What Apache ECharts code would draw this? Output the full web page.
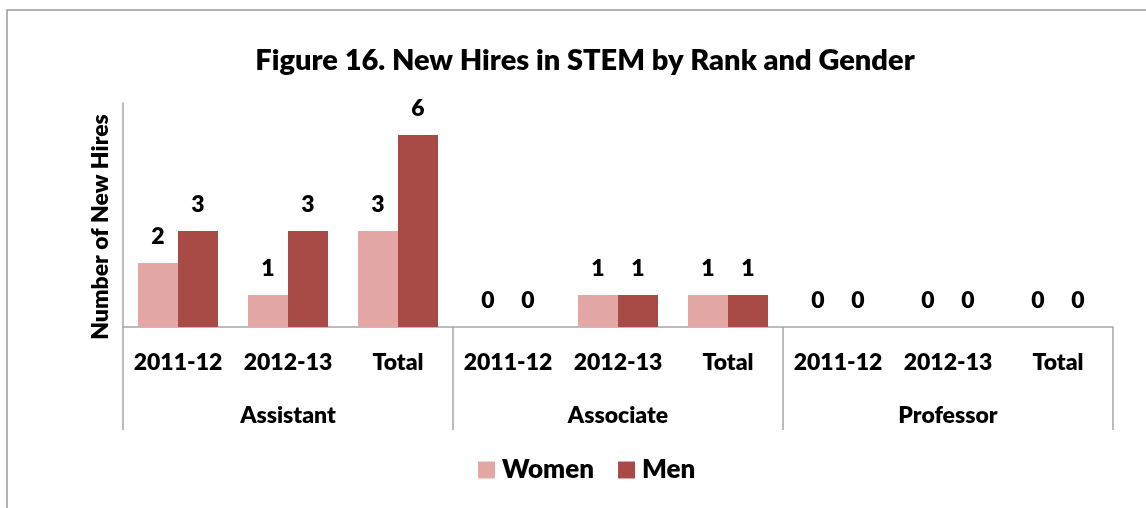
<!DOCTYPE html>
<html>
<head>
<meta charset="utf-8">
<script src="https://cdn.jsdelivr.net/npm/echarts@6/dist/echarts.min.js"></script>
<style>
html,body{margin:0;padding:0;background:#fff;}
#chart{width:1146px;height:508px;}
</style>
</head>
<body>
<div id="chart"></div>
<script>
var categories = ['2011-12','2012-13','Total','2011-12','2012-13','Total','2011-12','2012-13','Total'];
var groups = ['Assistant','Associate','Professor'];
var women = [2,1,3,0,1,1,0,0,0];
var men = [3,3,6,0,1,1,0,0,0];

var FONT = 'Lato';
var W = 800;
var chart = echarts.init(document.getElementById('chart'));
var labelCfg = {show:true, position:'top', distance:15, color:'#000', fontFamily:FONT, fontWeight:W, fontSize:23};
chart.setOption({
  backgroundColor:'#fff',
  animation:false,
  title:{
    text:'Figure 16. New Hires in STEM by Rank and Gender',
    left:580, top:41, textAlign:'center',
    textStyle:{fontFamily:FONT, fontWeight:W, fontSize:29, color:'#000'}
  },
  graphic:[{type:'rect', shape:{x:7,y:10,width:1300,height:700}, style:{fill:'none', stroke:'#9a9a9a', lineWidth:1.5}, silent:true}],
  legend:{
    data:['Women','Men'], left:473, top:452,
    itemWidth:17, itemHeight:17, itemGap:24,
    icon:'rect',
    textStyle:{fontFamily:FONT, fontWeight:W, fontSize:26, color:'#000', padding:[0,0,0,2]}
  },
  grid:{left:123, right:33, top:103, bottom:181, containLabel:false},
  xAxis:[{
    type:'category', data:categories, position:'bottom',
    axisLine:{show:true, lineStyle:{color:'#a6a6a6', width:1.5}},
    axisTick:{show:false},
    axisLabel:{margin:24, interval:0, color:'#000', fontFamily:FONT, fontWeight:W, fontSize:23}
  },{
    type:'category', data:groups, position:'bottom',
    axisLine:{show:false},
    axisTick:{show:true, length:103, lineStyle:{color:'#a6a6a6', width:1.5}},
    axisLabel:{margin:77, interval:0, color:'#000', fontFamily:FONT, fontWeight:W, fontSize:23}
  }],
  yAxis:{
    type:'value', min:0, max:7, interval:1,
    axisLine:{show:true, lineStyle:{color:'#a6a6a6', width:1.5}},
    axisTick:{show:false}, axisLabel:{show:false}, splitLine:{show:false},
    name:'Number of New Hires', nameLocation:'middle', nameGap:11, nameRotate:90,
    nameTextStyle:{fontFamily:FONT, fontWeight:W, fontSize:23, color:'#000', padding:[0,24,0,0]}
  },
  series:[{
    name:'Women', type:'bar', data:women, xAxisIndex:0,
    barWidth:40, barGap:'0%',
    itemStyle:{color:'#E3A8A6'},
    label:labelCfg
  },{
    name:'Men', type:'bar', data:men, xAxisIndex:0,
    barWidth:40, barGap:'0%',
    itemStyle:{color:'#A84B46'},
    label:labelCfg
  }]
});
</script>
</body>
</html>
